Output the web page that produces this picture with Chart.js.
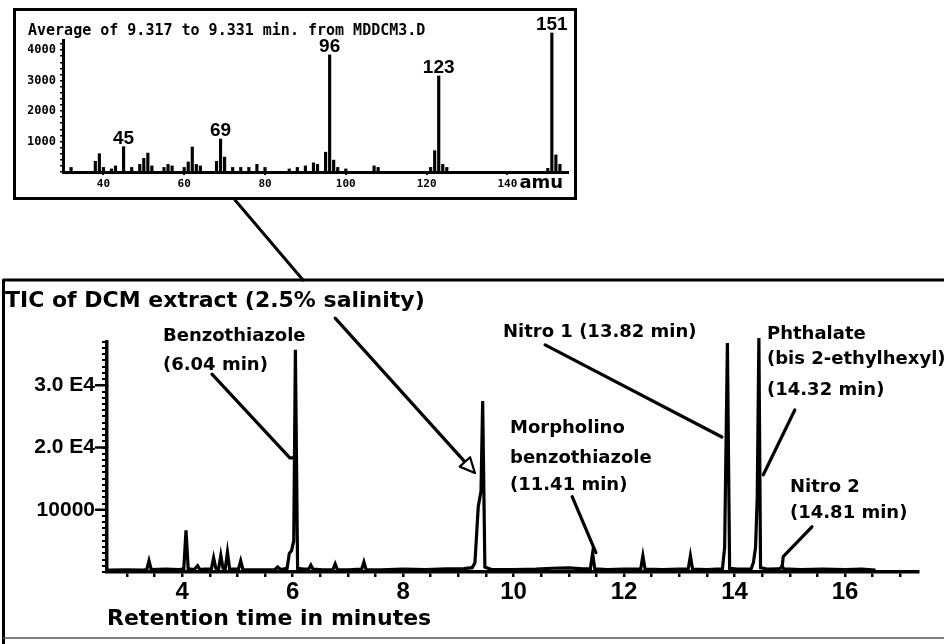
<!DOCTYPE html>
<html>
<head>
<meta charset="utf-8">
<title>TIC of DCM extract</title>
<script src="https://cdn.jsdelivr.net/npm/chart.js@4.4.1/dist/chart.umd.min.js"></script>
<style>
  html, body { margin: 0; padding: 0; background: #fff; }
  #wrap { position: relative; width: 944px; height: 644px; overflow: hidden; }
  #tic { position: absolute; left: 0; top: 0; }
  #ms { position: absolute; left: 13px; top: 8px; }
</style>
</head>
<body>
<div id="wrap">
  <canvas id="tic" width="944" height="644"></canvas>
  <canvas id="ms" width="564" height="192"></canvas>
</div>
<script>
// Chromatogram trace: retention time (min) and total ion count
const rtMinutes = [
  2.66, 3.00, 3.30, 3.36, 3.40, 3.44, 3.70, 3.95,
  4.03, 4.07, 4.11, 4.22, 4.28, 4.32, 4.40,
  4.53, 4.57, 4.61, 4.66, 4.70, 4.74, 4.78, 4.82, 4.86, 4.95,
  5.02, 5.06, 5.10, 5.40, 5.68, 5.73, 5.78, 5.90,
  5.94, 5.98, 6.02, 6.05, 6.09, 6.20,
  6.29, 6.33, 6.37, 6.55, 6.73, 6.77, 6.81, 7.00,
  7.25, 7.29, 7.33, 7.60, 8.00, 8.40, 8.80, 9.10, 9.25,
  9.30, 9.36, 9.41, 9.44, 9.48, 9.60,
  10.00, 10.40, 10.70, 11.00, 11.25, 11.39, 11.43, 11.47, 11.70,
  12.00, 12.30, 12.34, 12.38, 12.70, 13.00, 13.16, 13.20, 13.24, 13.50,
  13.78, 13.82, 13.87, 13.91, 14.05, 14.30,
  14.34, 14.38, 14.41, 14.44, 14.47, 14.60,
  14.80, 14.83, 14.86, 14.89, 15.20, 15.60, 16.00, 16.30, 16.55
];
const ticCounts = [
  300, 350, 300, 400, 1800, 400, 450, 400,
  500, 6700, 500, 400, 1000, 400, 450,
  500, 2300, 600, 500, 2700, 600, 500, 3200, 500, 450,
  450, 1800, 400, 350, 400, 800, 400, 600,
  3000, 3400, 5000, 35700, 600, 450,
  450, 1100, 450, 350, 400, 1300, 400, 350,
  450, 1600, 400, 350, 450, 400, 500, 550, 700,
  1500, 10500, 13000, 27500, 800, 400,
  400, 450, 600, 650, 500, 550, 3000, 500, 400,
  450, 450, 2600, 450, 400, 450, 450, 2600, 450, 400,
  500, 4000, 36800, 600, 450, 500,
  1500, 4000, 12000, 37600, 700, 450,
  500, 600, 1000, 500, 400, 450, 400, 450, 300
];

// chromatogram axes
const rtTickLabels = [4, 6, 8, 10, 12, 14, 16];
const ticTickValues = [10000, 20000, 30000];
const ticTickLabels = ['10000', '2.0 E4', '3.0 E4'];

// inset mass spectrum: m/z and abundance
const massToCharge = [
  32, 38, 39, 40, 42, 43, 45, 47, 49, 50,
  51, 52, 55, 56, 57, 60, 61, 62, 63, 64,
  68, 69, 70, 72, 74, 76, 78, 80, 86, 88,
  90, 92, 93, 95, 96, 97, 98, 100, 107, 108,
  121, 122, 123, 124, 125, 150, 151, 152, 153
];
const abundance = [
  150, 350, 600, 150, 100, 200, 830, 150, 250, 450,
  620, 200, 150, 250, 200, 150, 330, 820, 250, 200,
  350, 1080, 490, 150, 150, 150, 250, 150, 100, 150,
  200, 300, 250, 650, 3840, 390, 150, 100, 200, 150,
  150, 700, 3150, 250, 150, 120, 4560, 560, 250
];
const labelledMasses = [45, 69, 96, 123, 151];
const massTickLabels = [40, 60, 80, 100, 120, 140];
const abundanceTickLabels = [1000, 2000, 3000, 4000];

const insetTitle = 'Average of 9.317 to 9.331 min. from MDDCM3.D';

// minor tick marks
const rtMinorTicks = [];
for (let t = 3; t <= 17; t += 0.5) rtMinorTicks.push(t);
const ticMinorTicks = [];
for (let v = 0; v <= 37000; v += 1000) ticMinorTicks.push(v);
const abundanceMinorTicks = [];
for (let v = 0; v <= 4200; v += 200) abundanceMinorTicks.push(v);

// leader lines, in (minutes, counts)
const leaderLines = [
  [[4.54, 31800], [5.95, 18350], [6.04, 18350]],
  [[10.57, 36500], [13.77, 21700]],
  [[15.09, 26050], [14.52, 15620]],
  [[11.06, 12100], [11.49, 3100]],
  [[15.40, 7270], [14.88, 2460], [14.86, 690]]
];
const arrowLine = [[6.77, 40800], [9.30, 15900]];

// peak names, left x and baseline y in pixels
const peakNotes = [
  ['Benzothiazole', 163, 341], ['(6.04 min)', 163, 370],
  ['Nitro 1 (13.82 min)', 503, 337],
  ['Phthalate', 767, 339], ['(bis 2-ethylhexyl)', 767, 364], ['(14.32 min)', 767, 395],
  ['Morpholino', 510, 433], ['benzothiazole', 510, 463], ['(11.41 min)', 510, 490],
  ['Nitro 2', 790, 492], ['(14.81 min)', 790, 518]
];

const ticNotes = {
  id: 'ticNotes',
  afterDraw(chart) {
    const { ctx, scales: { x, y } } = chart;
    const px = p => [x.getPixelForValue(p[0]), y.getPixelForValue(p[1])];
    ctx.save();
    ctx.strokeStyle = '#000';
    ctx.fillStyle = '#000';
    ctx.lineCap = 'round';
    ctx.lineJoin = 'round';

    // panel frame
    ctx.lineWidth = 3;
    ctx.beginPath();
    ctx.moveTo(944, 280); ctx.lineTo(3.5, 280); ctx.lineTo(3.5, 644);
    ctx.stroke();
    ctx.lineWidth = 1.5;
    ctx.strokeStyle = '#555';
    ctx.beginPath();
    ctx.moveTo(3.5, 638); ctx.lineTo(944, 638);
    ctx.stroke();

    // connector to the inset
    ctx.strokeStyle = '#000';
    ctx.lineWidth = 3;
    ctx.beginPath();
    ctx.moveTo(235, 200); ctx.lineTo(303, 280);
    ctx.stroke();

    // longer marks at labelled y ticks
    ctx.lineWidth = 2.5;
    ticTickValues.forEach(v => {
      const py = y.getPixelForValue(v);
      ctx.beginPath();
      ctx.moveTo(x.left - 11, py); ctx.lineTo(x.left, py);
      ctx.stroke();
    });

    // leader lines
    ctx.lineWidth = 3.2;
    leaderLines.forEach(line => {
      ctx.beginPath();
      line.forEach((p, i) => {
        const [a, b] = px(p);
        if (i === 0) ctx.moveTo(a, b); else ctx.lineTo(a, b);
      });
      ctx.stroke();
    });

    // arrow from the title
    const [sx, sy] = px(arrowLine[0]);
    const [tx, ty] = px(arrowLine[1]);
    const ang = Math.atan2(ty - sy, tx - sx);
    const len = 15, half = 7;
    const bx = tx - len * Math.cos(ang), by = ty - len * Math.sin(ang);
    ctx.beginPath();
    ctx.moveTo(sx, sy); ctx.lineTo(bx, by);
    ctx.stroke();
    ctx.lineWidth = 2.2;
    ctx.beginPath();
    ctx.moveTo(tx, ty);
    ctx.lineTo(bx + half * Math.sin(ang), by - half * Math.cos(ang));
    ctx.lineTo(bx - half * Math.sin(ang), by + half * Math.cos(ang));
    ctx.closePath();
    ctx.fillStyle = '#fff';
    ctx.fill();
    ctx.stroke();

    // peak names
    ctx.fillStyle = '#000';
    ctx.font = 'bold 18px "DejaVu Sans"';
    ctx.textAlign = 'left';
    ctx.textBaseline = 'alphabetic';
    peakNotes.forEach(([t, a, b]) => ctx.fillText(t, a, b));
    ctx.restore();
  }
};

new Chart(document.getElementById('tic'), {
  type: 'line',
  data: {
    datasets: [{
      data: rtMinutes.map((t, i) => ({ x: t, y: ticCounts[i] })),
      borderColor: '#000',
      borderWidth: 3.2,
      pointRadius: 0,
      tension: 0,
      fill: false,
      clip: false
    }]
  },
  options: {
    responsive: false,
    animation: false,
    devicePixelRatio: 1,
    layout: { padding: { left: 5, right: 26, top: 288, bottom: 12 } },
    plugins: {
      legend: { display: false },
      tooltip: { enabled: false },
      title: {
        display: true,
        align: 'start',
        color: '#000',
        text: 'TIC of DCM extract (2.5% salinity)',
        font: { family: 'DejaVu Sans', weight: 'bold', size: 22 },
        padding: { top: 0, bottom: 27.4 }
      }
    },
    scales: {
      x: {
        type: 'linear',
        min: 2.64,
        max: 17.32,
        offset: false,
        afterBuildTicks: s => { s.ticks = rtMinorTicks.map(v => ({ value: v })); },
        afterFit: s => { s.height = 60; s.paddingLeft = 0; s.paddingRight = 0; },
        border: { color: '#000', width: 3.5 },
        grid: { drawOnChartArea: false, color: '#000', tickLength: 5, lineWidth: 2.5, tickWidth: 2.5 },
        ticks: {
          autoSkip: false,
          maxRotation: 0,
          color: '#000',
          padding: 1,
          font: { family: 'Liberation Sans', weight: 'bold', size: 24 },
          callback: v => rtTickLabels.includes(v) ? String(v) : ''
        },
        title: {
          display: true,
          align: 'start',
          color: '#000',
          text: 'Retention time in minutes',
          font: { family: 'DejaVu Sans', weight: 'bold', size: 22 },
          padding: 0
        }
      },
      y: {
        min: 0,
        max: 37000,
        afterBuildTicks: s => { s.ticks = ticMinorTicks.map(v => ({ value: v })); },
        afterFit: s => { s.width = 102; s.paddingTop = 0; s.paddingBottom = 0; },
        border: { color: '#000', width: 3.5 },
        grid: { drawOnChartArea: false, color: '#000', tickLength: 5, lineWidth: 2, tickWidth: 2 },
        ticks: {
          autoSkip: false,
          color: '#000',
          padding: 7,
          font: { family: 'Liberation Sans', weight: 'bold', size: 21 },
          callback: v => {
            const k = ticTickValues.indexOf(v);
            return k < 0 ? '' : ticTickLabels[k];
          }
        }
      }
    }
  },
  plugins: [ticNotes]
});

const msNotes = {
  id: 'msNotes',
  afterDraw(chart) {
    const { ctx, scales: { x, y } } = chart;
    ctx.save();
    ctx.strokeStyle = '#000';
    ctx.fillStyle = '#000';
    ctx.lineWidth = 3;
    ctx.strokeRect(1.5, 1.5, chart.width - 3, chart.height - 3);

    ctx.font = 'bold 15px "DejaVu Sans Mono"';
    ctx.textAlign = 'left';
    ctx.textBaseline = 'alphabetic';
    ctx.fillText(insetTitle, 15, 27);

    ctx.font = 'bold 19px "Liberation Sans"';
    ctx.textAlign = 'center';
    labelledMasses.forEach(m => {
      const i = massToCharge.indexOf(m);
      ctx.fillText(String(m), x.getPixelForValue(m), y.getPixelForValue(abundance[i]) - 3);
    });

    ctx.font = 'bold 18px "DejaVu Sans"';
    ctx.textAlign = 'left';
    ctx.fillText('amu', x.getPixelForValue(140) + 12, 180);
    ctx.restore();
  }
};

new Chart(document.getElementById('ms'), {
  type: 'bar',
  data: {
    datasets: [{
      data: massToCharge.map((m, i) => ({ x: m, y: abundance[i] })),
      backgroundColor: '#000',
      barThickness: 2.5,
      clip: false
    }]
  },
  options: {
    responsive: false,
    animation: false,
    devicePixelRatio: 1,
    layout: { padding: { left: 15, right: 9, top: 32, bottom: 4 } },
    plugins: { legend: { display: false }, tooltip: { enabled: false } },
    scales: {
      x: {
        type: 'linear',
        min: 30,
        max: 155,
        offset: false,
        afterBuildTicks: s => { s.ticks = massTickLabels.map(v => ({ value: v })); },
        afterFit: s => { s.height = 24; s.paddingLeft = 0; s.paddingRight = 0; },
        border: { color: '#000', width: 3 },
        grid: { drawOnChartArea: false, offset: false, color: '#000', tickLength: 3, lineWidth: 2 },
        ticks: {
          autoSkip: false,
          maxRotation: 0,
          color: '#000',
          padding: 3,
          font: { family: 'DejaVu Sans Mono', weight: 'bold', size: 11 }
        }
      },
      y: {
        min: 0,
        max: 4330,
        afterBuildTicks: s => { s.ticks = abundanceMinorTicks.map(v => ({ value: v })); },
        afterFit: s => { s.width = 35; s.paddingTop = 0; s.paddingBottom = 0; },
        border: { color: '#000', width: 3 },
        grid: { drawOnChartArea: false, color: '#000', tickLength: 3, lineWidth: 1.5 },
        ticks: {
          autoSkip: false,
          color: '#000',
          padding: 4,
          font: { family: 'DejaVu Sans Mono', weight: 'bold', size: 12 },
          callback: v => abundanceTickLabels.includes(v) ? String(v) : ''
        }
      }
    }
  },
  plugins: [msNotes]
});
</script>
</body>
</html>
